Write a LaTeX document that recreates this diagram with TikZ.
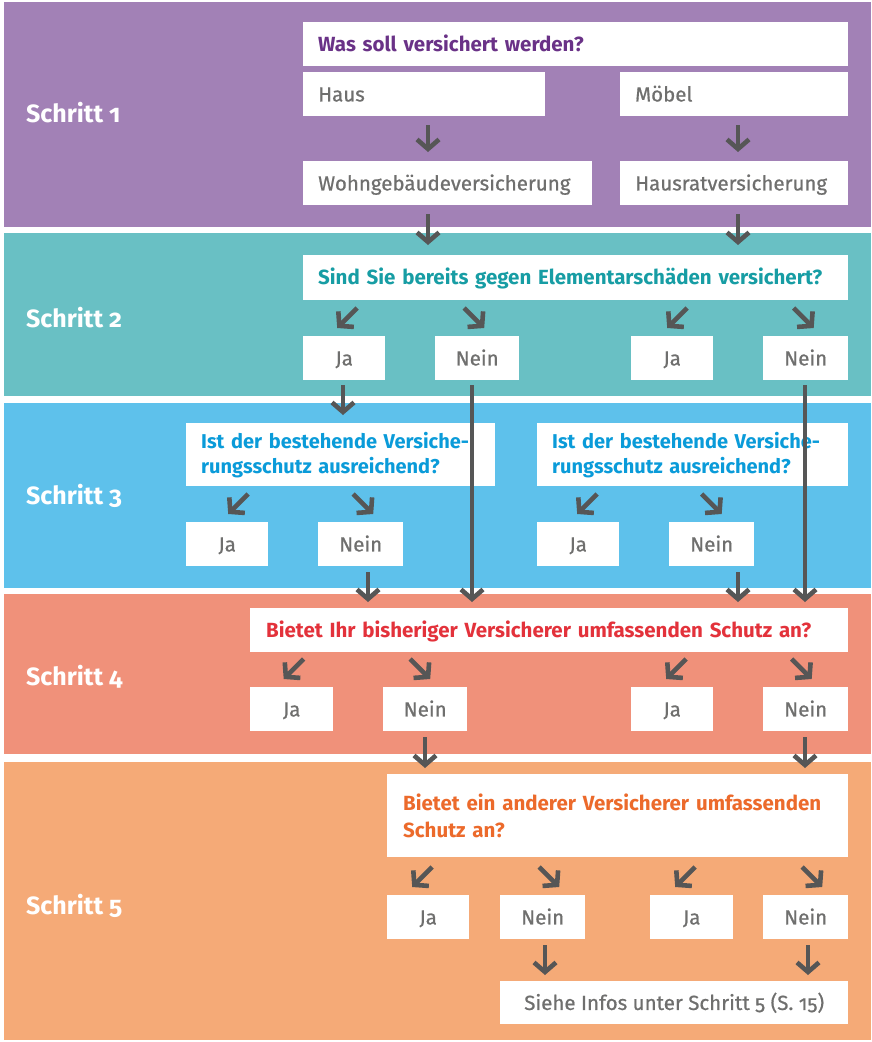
\documentclass[tikz,border=0pt]{standalone}
\usepackage{fontspec}
\setmainfont{Fira Sans}[Numbers=OldStyle]
\newfontfamily\fmed{Fira Sans}[Numbers=OldStyle, FakeBold=0.7]
\usetikzlibrary{arrows.meta,calc}
\definecolor{bandA}{HTML}{A281B6}
\definecolor{bandB}{HTML}{69C0C4}
\definecolor{bandC}{HTML}{5EC1EB}
\definecolor{bandD}{HTML}{F0917A}
\definecolor{bandE}{HTML}{F5AA77}
\definecolor{txtA}{HTML}{6A3287}
\definecolor{txtB}{HTML}{179DA4}
\definecolor{txtC}{HTML}{0A9BD9}
\definecolor{txtD}{HTML}{E3323B}
\definecolor{txtE}{HTML}{EC6A2B}
\definecolor{txtgray}{HTML}{6F6F6E}
\definecolor{arrowc}{HTML}{565656}
\newcommand\dlarr[2]{\draw[arr] ([shift={(#2+10,-28)}]#1.north) -- ([shift={(#2-10,-8)}]#1.north);}
\newcommand\drarr[2]{\draw[arr] ([shift={(#2-10,-28)}]#1.north) -- ([shift={(#2+10,-8)}]#1.north);}
\begin{document}
\begin{tikzpicture}[x=1pt,y=-1pt,
  arr/.style={draw=arrowc, line width=4.6pt, -{Straight Barb[length=9.5pt,width=22pt]}},
  basebox/.style={fill=white, inner ysep=0pt, anchor=north west, minimum height=44pt, text=txtgray,
    font=\fontsize{20.5}{25}\selectfont\fmed},
  oneline/.style={text height=14.5pt, text depth=0pt},
  lbox/.style={basebox, oneline, inner xsep=15pt, align=left},
  cbox/.style={basebox, oneline, inner xsep=0pt, align=center},
  qbox/.style={lbox, font=\fontsize{20.5}{25}\selectfont\bfseries},
  qbox2/.style={basebox, inner xsep=15pt, align=left, font=\fontsize{20}{25}\selectfont\bfseries},
  schritt/.style={anchor=west, text=white, font=\fontsize{25}{28}\selectfont\bfseries, inner sep=0pt}]
\useasboundingbox (0,0) rectangle (871,1042);
% bands
\fill[bandA] (4,2) rectangle (871,227);
\fill[bandB] (4,233) rectangle (871,396);
\fill[bandC] (4,403) rectangle (871,588);
\fill[bandD] (4,594) rectangle (871,754);
\fill[bandE] (4,762) rectangle (871,1040);
% labels
\node[schritt] (s1) at (26,113) {Schritt 1};
\node[schritt] (s2) at (26,318) {Schritt 2};
\node[schritt] (s3) at (26,496) {Schritt 3};
\node[schritt] (s4) at (26,677) {Schritt 4};
\node[schritt] (s5) at (26,906) {Schritt 5};
% step 1
\node[qbox, text=txtA, minimum width=545pt, text width=515pt] (q1) at (303,22) {Was soll versichert werden?};
\node[lbox, minimum width=242pt, text width=212pt] (haus) at (303,72) {Haus};
\node[lbox, minimum width=228pt, text width=198pt] (moebel) at (620,72) {Möbel};
\node[lbox, minimum width=289pt, text width=259pt] (wohn) at (303,161) {Wohngebäudeversicherung};
\node[lbox, minimum width=228pt, text width=198pt] (hausrat) at (620,161) {Hausratversicherung};
% step 2
\node[qbox, text=txtB, minimum width=545pt, minimum height=45pt, text width=515pt] (q2) at (303,255) {Sind Sie bereits gegen Elementarschäden versichert?};
\node[cbox, minimum width=82pt] (ja1) at (303,336) {Ja};
\node[cbox, minimum width=84pt] (nein1) at (435,336) {Nein};
\node[cbox, minimum width=82pt] (ja2) at (631,336) {Ja};
\node[cbox, minimum width=85pt] (nein2) at (763,336) {Nein};
% step 3
\node[qbox2, text=txtC, minimum width=309pt, minimum height=63pt, text width=279pt] (q3a) at (186,423) {Ist der bestehende Versiche-\\rungsschutz ausreichend?};
\node[qbox2, text=txtC, minimum width=311pt, minimum height=63pt, text width=281pt] (q3b) at (537,423) {Ist der bestehende Versiche-\\rungsschutz ausreichend?};
\node[cbox, minimum width=82pt] (ja3a) at (186,522) {Ja};
\node[cbox, minimum width=85pt] (nein3a) at (318,522) {Nein};
\node[cbox, minimum width=82pt] (ja3b) at (537,522) {Ja};
\node[cbox, minimum width=85pt] (nein3b) at (669,522) {Nein};
% step 4
\node[qbox, text=txtD, minimum width=598pt, text width=566pt, inner xsep=16pt] (q4) at (250,608) {Bietet Ihr bisheriger Versicherer umfassenden Schutz an?};
\node[cbox, minimum width=83pt] (ja4a) at (250,687) {Ja};
\node[cbox, minimum width=84pt] (nein4a) at (383,687) {Nein};
\node[cbox, minimum width=82pt] (ja4b) at (631,687) {Ja};
\node[cbox, minimum width=85pt] (nein4b) at (763,687) {Nein};
% step 5
\node[qbox2, text=txtE, minimum width=461pt, minimum height=83pt, text width=429pt, inner xsep=16pt, font=\fontsize{20.5}{27}\selectfont\bfseries] (q5) at (387,774) {Bietet ein anderer Versicherer umfassenden\\Schutz an?};
\node[cbox, minimum width=82pt] (ja5a) at (387,895) {Ja};
\node[cbox, minimum width=85pt] (nein5a) at (500,895) {Nein};
\node[cbox, minimum width=83pt] (ja5b) at (650,895) {Ja};
\node[cbox, minimum width=85pt] (nein5b) at (763,895) {Nein};
\node[cbox, minimum width=348pt, minimum height=43pt] (siehe) at (500,981) {Siehe Infos unter Schritt 5 (S.~15)};
% coordinates for vertical arrow columns
\coordinate (cA) at (428,0);
\coordinate (cB) at (738,0);
\coordinate (cC) at (343,0);
\coordinate (cD) at (472,0);
\coordinate (cE) at (805,0);
\coordinate (cF) at (368,0);
\coordinate (cG) at (738,0);
\coordinate (cH) at (425,0);
\coordinate (cI) at (545,0);
\coordinate (cJ) at (808,0);
% step 1 arrows
\draw[arr, shorten <=9pt, shorten >=9pt] (haus.south -| cA) -- (wohn.north -| cA);
\draw[arr, shorten <=9pt, shorten >=9pt] (moebel.south -| cB) -- (hausrat.north -| cB);
\draw[arr, shorten <=9pt, shorten >=10pt] (wohn.south -| cA) -- (q2.north -| cA);
\draw[arr, shorten <=9pt, shorten >=10pt] (hausrat.south -| cB) -- (q2.north -| cB);
% step 2 arrows
\dlarr{ja1}{3}
\drarr{nein1}{-3}
\dlarr{ja2}{5}
\drarr{nein2}{-2}
\draw[arr, shorten <=5pt, shorten >=8pt] (ja1.south -| cC) -- (q3a.north -| cC);
\draw[arr, shorten <=5pt, shorten >=6pt] (nein1.south -| cD) -- (q4.north -| cD);
\draw[arr, shorten <=5pt, shorten >=6pt] (nein2.south -| cE) -- (q4.north -| cE);
% step 3 arrows
\dlarr{ja3a}{11}
\drarr{nein3a}{2.5}
\dlarr{ja3b}{9}
\drarr{nein3b}{0}
\draw[arr, shorten <=6pt, shorten >=6pt] (nein3a.south -| cF) -- (q4.north -| cF);
\draw[arr, shorten <=6pt, shorten >=6pt] (nein3b.south -| cG) -- (q4.north -| cG);
% step 4 arrows
\dlarr{ja4a}{2}
\drarr{nein4a}{-5}
\dlarr{ja4b}{4}
\drarr{nein4b}{-4}
\draw[arr, shorten <=6pt, shorten >=6pt] (nein4a.south -| cH) -- (q5.north -| cH);
\draw[arr, shorten <=6pt, shorten >=6pt] (nein4b.south -| cE) -- (q5.north -| cE);
% step 5 arrows
\dlarr{ja5a}{-6}
\drarr{nein5a}{6.5}
\dlarr{ja5b}{-6.5}
\drarr{nein5b}{6.5}
\draw[arr, shorten <=6pt, shorten >=6pt] (nein5a.south -| cI) -- (siehe.north -| cI);
\draw[arr, shorten <=6pt, shorten >=6pt] (nein5b.south -| cJ) -- (siehe.north -| cJ);
\end{tikzpicture}
\end{document}
